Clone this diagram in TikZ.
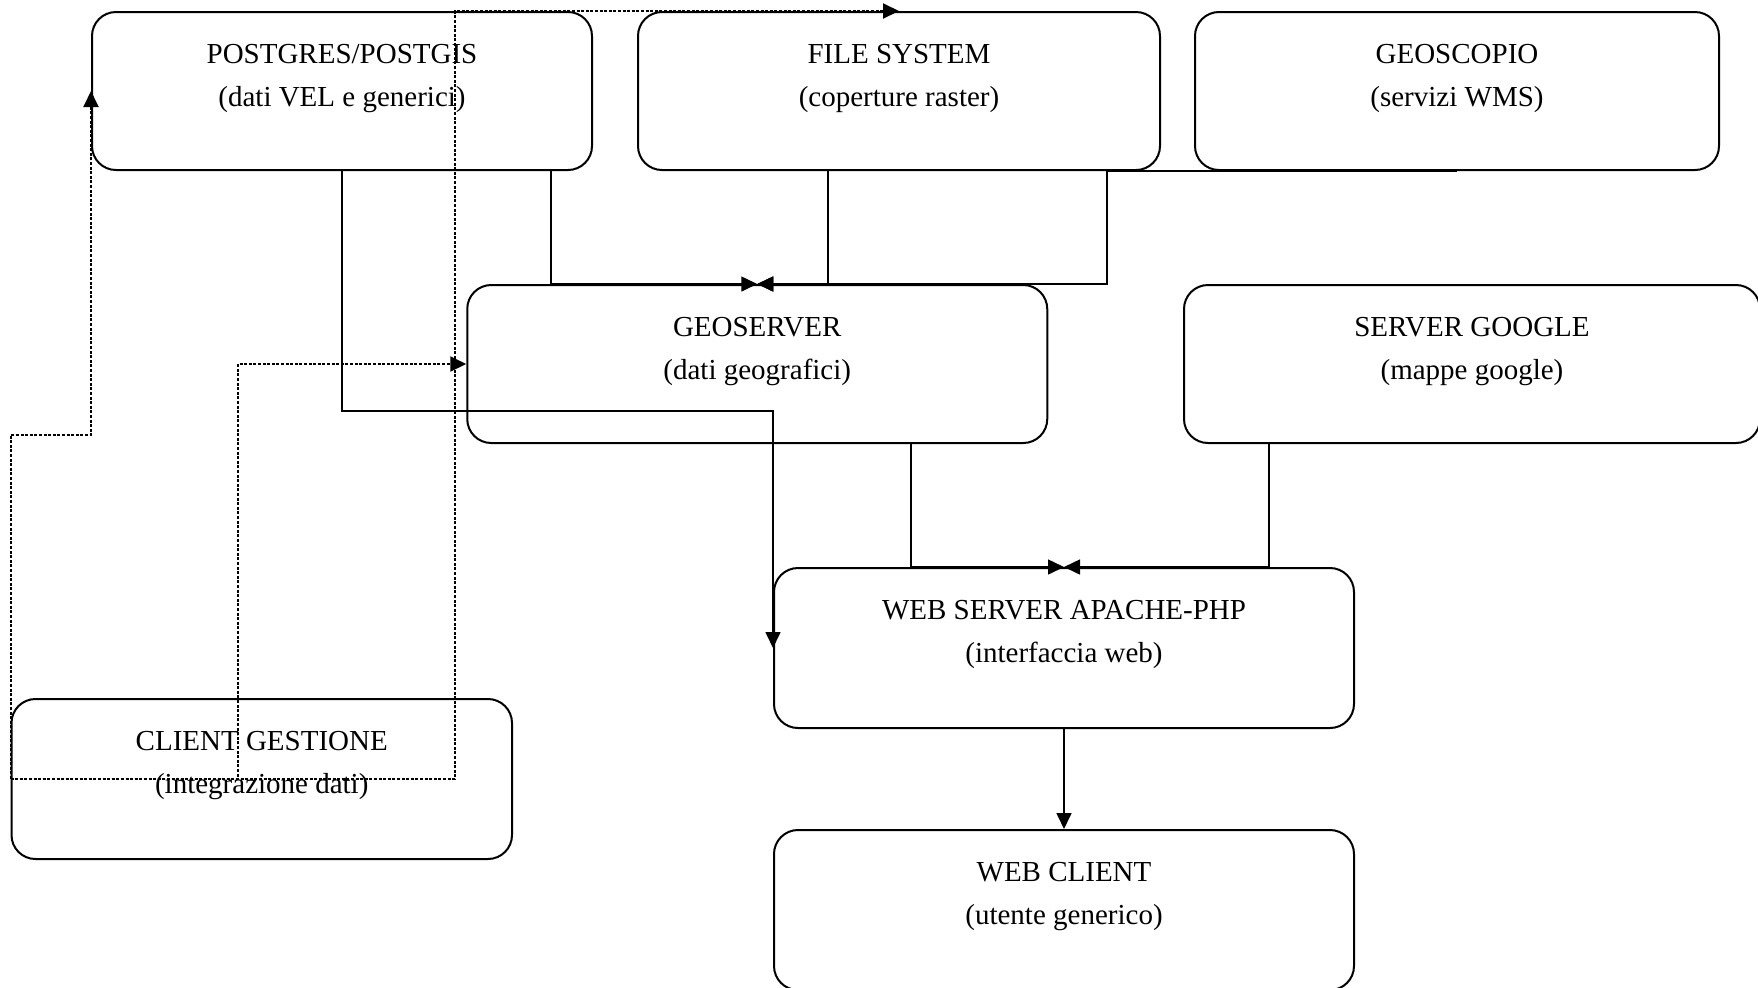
\documentclass[tikz,border=0pt]{standalone}
\usepackage{fontspec}
\setmainfont{Liberation Serif}
\usetikzlibrary{arrows.meta,calc}
\begin{document}
\begin{tikzpicture}[x=0.5pt,y=-0.5pt,
  box/.style={draw, line width=1pt, rounded corners=12pt, inner sep=0pt},
  lbl/.style={anchor=north, align=center, inner sep=0pt, font=\fontsize{14.5}{21.5}\selectfont},
  conn/.style={line width=0.8pt},
  tip/.style={-{Triangle[length=8pt,width=7.5pt]}},
  dotline/.style={line width=1pt, dash pattern=on 1.5pt off 0.8pt}]
\useasboundingbox (0,0) rectangle (1758,987);

% boxes
\node[box, minimum width=250pt, minimum height=79pt] (pg) at (342,91) {};
\node[box, minimum width=261pt, minimum height=79pt] (fs) at (899,91) {};
\node[box, minimum width=262pt, minimum height=79pt] (gs) at (1457,91) {};
\node[box, minimum width=290pt, minimum height=79pt] (geo) at (757.25,364) {};
\node[box, minimum width=288pt, minimum height=79pt] (google) at (1472,364) {};
\node[box, minimum width=290pt, minimum height=80pt] (ws) at (1064,648) {};
\node[box, minimum width=290pt, minimum height=80pt] (wc) at (1064,910) {};
\node[box, minimum width=250.25pt, minimum height=80pt] (cg) at (261.75,779) {};

% labels
\node[lbl] (pgt) at ($(pg.north)+(0,33)$) {POSTGRES/POSTGIS\\(dati VEL e generici)};
\node[lbl] (fst) at ($(fs.north)+(0,33)$) {FILE SYSTEM\\(coperture raster)};
\node[lbl] (gst) at ($(gs.north)+(0,33)$) {GEOSCOPIO\\(servizi WMS)};
\node[lbl] (geot) at ($(geo.north)+(0,33)$) {GEOSERVER\\(dati geografici)};
\node[lbl] (googlet) at ($(google.north)+(0,33)$) {SERVER GOOGLE\\(mappe google)};
\node[lbl] (wst) at ($(ws.north)+(0,33)$) {WEB SERVER APACHE-PHP\\(interfaccia web)};
\node[lbl] (wct) at ($(wc.north)+(0,33)$) {WEB CLIENT\\(utente generico)};
\node[lbl] (cgt) at ($(cg.north)+(0,33)$) {CLIENT GESTIONE\\(integrazione dati)};

% solid connectors
\draw[conn,tip] (pg.south) -- ++(0,240) -| (ws.west);
\draw[conn,tip] ($(pg.south east)+(-42,0)$) |- (geo.north);
\draw[conn,tip] ($(fs.south)+(-71,0)$) |- (geo.north);
\draw[conn,tip] (gs.south) -- ++(-350,0) |- (geo.north);
\draw[conn,tip] ($(geo.south)+(154,0)$) |- (ws.north);
\draw[conn,tip] ($(google.south)+(-203,0)$) |- (ws.north);
\draw[conn,tip] (ws.south) -- (wc.north);

% dotted connectors
\draw[dotline,tip] (cg.west) -- ++(0,-344) -| (pg.west);
\draw[dotline,tip] (cg.west) -- ++(444.5,0) |- (fs.north);
\draw[dotline,tip] (cg.west) -- ++(227.5,0) |- (geo.west);
\end{tikzpicture}
\end{document}
